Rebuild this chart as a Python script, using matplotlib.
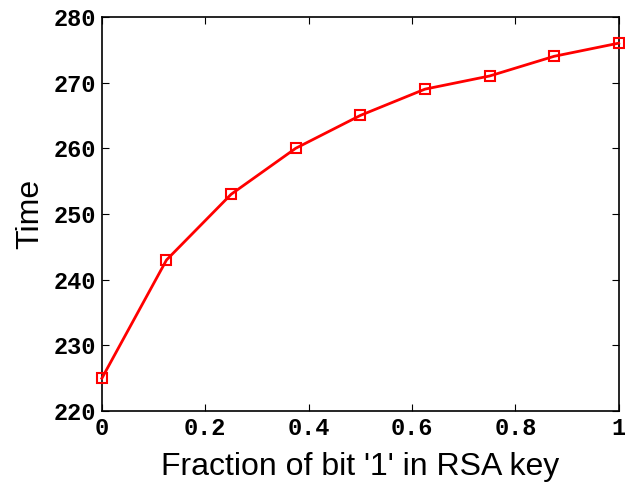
import matplotlib
matplotlib.use("Agg")
import matplotlib.pyplot as plt

# fraction of '1' bits in the key vs. measured time
fraction = [0, 0.125, 0.25, 0.375, 0.5, 0.625, 0.75, 0.875, 1.0]
time_vals = [225, 243, 253, 260, 265, 269, 271, 274, 276]

xticks = [0, 0.2, 0.4, 0.6, 0.8, 1]
xtick_labels = ["0", "0.2", "0.4", "0.6", "0.8", "1"]
yticks = [220, 230, 240, 250, 260, 270, 280]

fig = plt.figure(figsize=(6.25, 4.82), dpi=100)
ax = fig.add_axes([0.163, 0.147, 0.827, 0.818])

ax.plot(fraction, time_vals, color="red", linewidth=2, marker="s",
        markersize=7, markerfacecolor="none", markeredgecolor="red",
        markeredgewidth=1.5, clip_on=False, zorder=3)

ax.set_xlim(0, 1)
ax.set_ylim(220, 280)
ax.set_xticks(xticks)
ax.set_xticklabels(xtick_labels)
ax.set_yticks(yticks)

tick_font = {"family": "Liberation Mono", "weight": "bold", "size": 17}
for lbl in ax.get_xticklabels() + ax.get_yticklabels():
    lbl.set_fontfamily(tick_font["family"])
    lbl.set_fontweight(tick_font["weight"])
    lbl.set_fontsize(tick_font["size"])

ax.tick_params(direction="in", top=True, right=True, length=5, width=0.8, pad=4)
for s in ax.spines.values():
    s.set_linewidth(1.2)

ax.set_xlabel("Fraction of bit '1' in RSA key", family="Liberation Sans", fontsize=23, labelpad=9)
ax.set_ylabel("Time", family="Liberation Sans", fontsize=23, labelpad=6)

fig.savefig("out.png", dpi=100)
